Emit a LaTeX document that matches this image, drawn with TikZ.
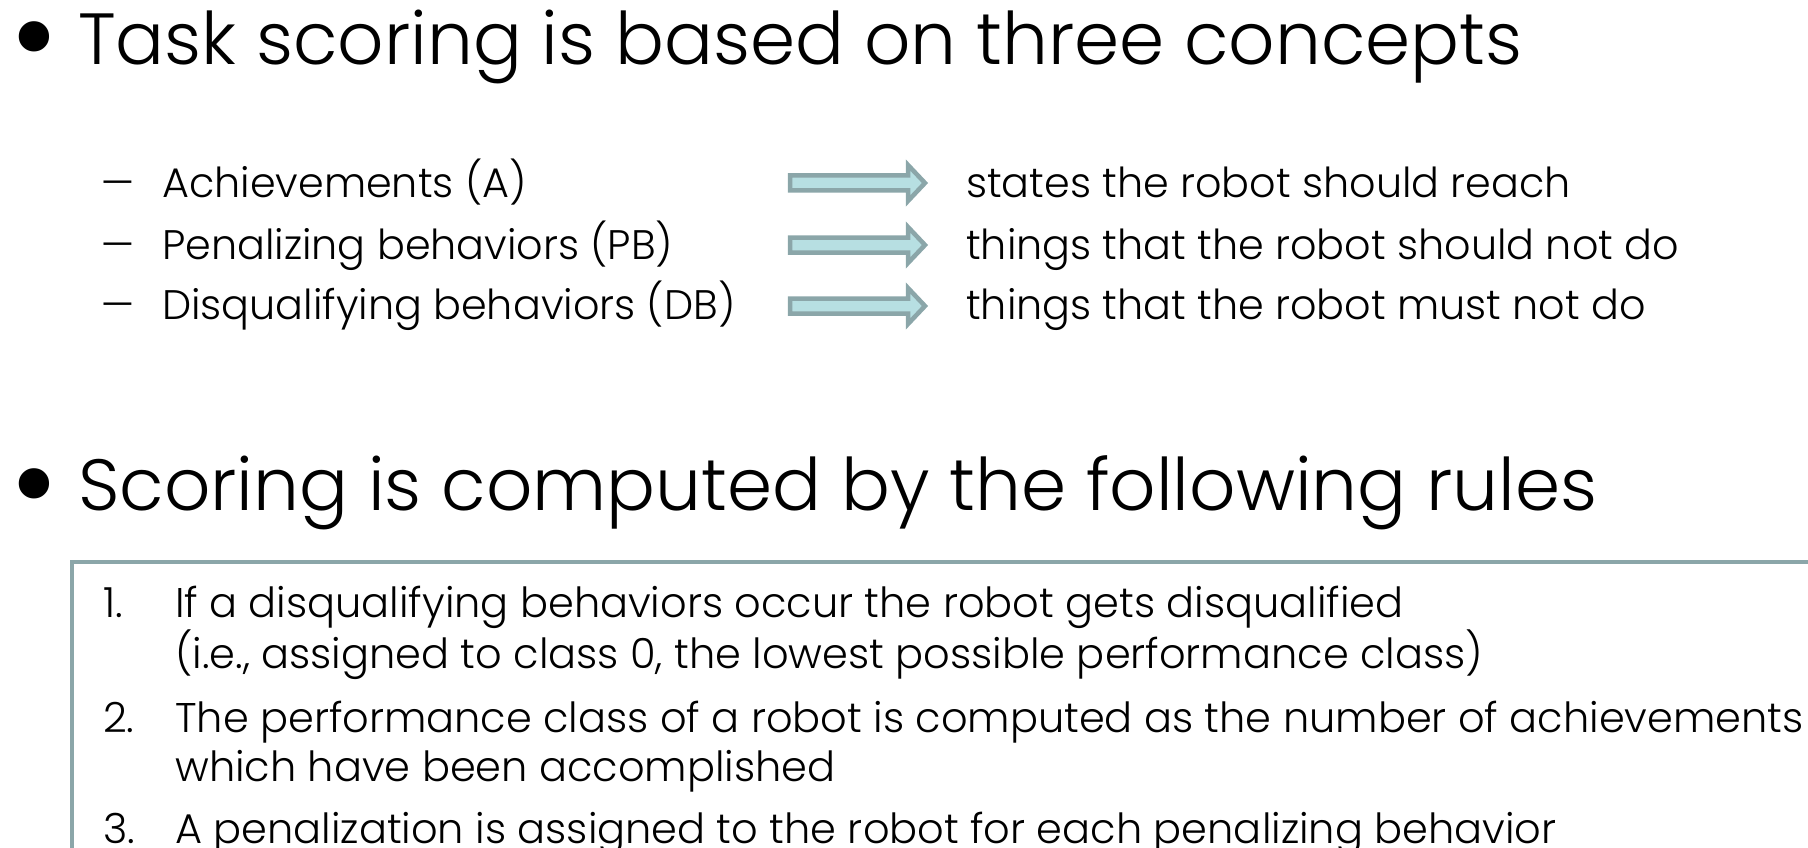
\documentclass[tikz,border=0pt]{standalone}
\usepackage{fontspec}
\setmainfont{Poppins}[UprightFont={* Light}]
\usetikzlibrary{calc}
\definecolor{slateline}{HTML}{8BA6A9}
\definecolor{arrowfill}{HTML}{B7DFE2}
\tikzset{
  heading/.style={anchor=base west, inner sep=0pt, font=\fontsize{72.5}{86}\selectfont},
  entry/.style={anchor=base west, inner sep=0pt, font=\fontsize{41.3}{49}\selectfont},
  ruletext/.style={anchor=base west, inner sep=0pt, font=\fontsize{41.5}{49}\selectfont},
  dot/.style={inner sep=0pt, font=\fontsize{131}{135}\selectfont},
}
\def\fatarrow(#1,#2){\draw[line width=4.5pt, draw=slateline, fill=arrowfill, line join=miter] (#1+3,#2-7.5) -- (#1+121,#2-7.5) -- (#1+121,#2-18) -- (#1+138,#2) -- (#1+121,#2+18) -- (#1+121,#2+7.5) -- (#1+3,#2+7.5) -- cycle;}
\def\longdash{\scalebox{1.3}[1]{–}}

\begin{document}
\begin{tikzpicture}[x=1pt,y=-1pt]
		\useasboundingbox (0,0) rectangle (1808,848);
		\clip (0,0) rectangle (1808,848);
		
		% first bullet
		\node[dot] (bul1) at (34,51) {•};
		\node[heading] (task) at (78,65) {Task scoring is based on three concepts};
		
		\node[entry] (dash1) at (100,197) {\longdash};
		\node[entry] (dash2) at (100,259) {\longdash};
		\node[entry] (dash3) at (100,319) {\longdash};
		\node[entry] (achv) at (162,197) {Achievements (A)};
		\node[entry] (penal) at (162,259) {Penalizing behaviors (PB)};
		\node[entry] (disq) at (162,319) {Disqualifying behaviors (DB)};
		
		\fatarrow(787,183)
		\fatarrow(787,245)
		\fatarrow(787,306)
		
		\node[entry] (reach) at (966,197) {states the robot should reach};
		\node[entry] (shouldnot) at (966,259) {things that the robot should not do};
		\node[entry] (mustnot) at (966,319) {things that the robot must not do};
		
		% second bullet
		\node[dot] (bul2) at (34,498) {•};
		\node[heading] (rules) at (78,510) {Scoring is computed by the following rules};
		
		\draw[line width=4.5pt, color=slateline] (72,562) rectangle (1900,950);
		
		\node[ruletext] (n1) at (103,617) {1.};
		\node[ruletext] (r1a) at (175,617) {If a disqualifying behaviors occur the robot gets disqualified};
		\node[ruletext] (r1b) at (175,668) {(i.e., assigned to class 0, the lowest possible performance class)};
		\node[ruletext] (n2) at (103,732) {2.};
		\node[ruletext] (r2a) at (175,732) {The performance class of a robot is computed as the number of achievements};
		\node[ruletext] (r2b) at (175,781) {which have been accomplished};
		\node[ruletext] (n3) at (103,843) {3.};
		\node[ruletext] (r3a) at (175,843) {A penalization is assigned to the robot for each penalizing behavior};
		
\end{tikzpicture}
\end{document}
